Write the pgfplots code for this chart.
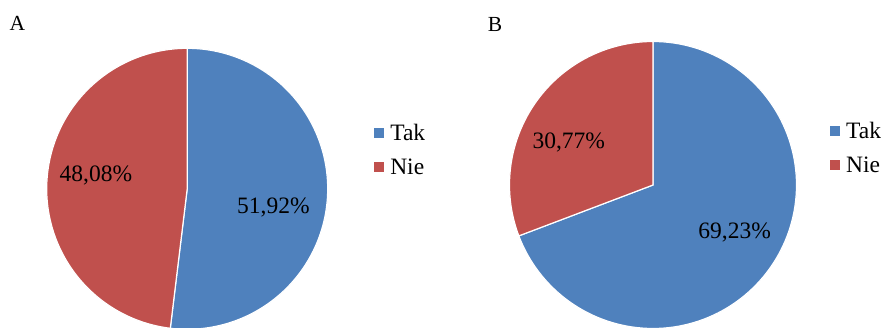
\documentclass[border=0pt]{standalone}
\usepackage{pgfplots}
\usepackage{pgfplotstable}
\pgfplotsset{compat=1.18}
\usepackage{fontspec}
\setmainfont{Liberation Serif}

\definecolor{tak}{HTML}{4F81BD}
\definecolor{nie}{HTML}{C0504D}

% Shares of answers (percent)
\pgfplotstableread{
answer share
Tak 51.92
Nie 48.08
}\surveyA
\pgfplotstableread{
answer share
Tak 69.23
Nie 30.77
}\surveyB

\pgfplotstablegetelem{0}{share}\of\surveyA \let\aTak\pgfplotsretval
\pgfplotstablegetelem{1}{share}\of\surveyA \let\aNie\pgfplotsretval
\pgfplotstablegetelem{0}{share}\of\surveyB \let\bTak\pgfplotsretval
\pgfplotstablegetelem{1}{share}\of\surveyB \let\bNie\pgfplotsretval

% wedge boundaries, clockwise from 12 o'clock
\pgfmathsetmacro\aCut{90-3.6*\aTak}
\pgfmathsetmacro\bCut{90-3.6*\bTak}

\newcommand\bigfont{\fontsize{23.5bp}{28bp}\selectfont}
\newcommand\pct[1]{\pgfmathprintnumber[fixed,fixed zerofill,precision=2,use comma,assume math mode=true]{#1}\%}

\pgfplotsset{
  pie/.style={
    hide axis, scale only axis, clip=false,
    xmin=-1, xmax=1, ymin=-1, ymax=1,
    anchor=origin,
    samples=120,
    legend cell align=left,
    legend image code/.code={\fill[##1, draw=none] (0bp,-5bp) rectangle (10bp,5bp);},
    legend style={draw=none, fill=none, anchor=west, inner sep=0pt,
      row sep=15bp, column sep=5bp, font=\bigfont,
      nodes={inner sep=1bp}},
  },
  wedge/.style={fill=#1, draw=white, line width=1.2bp},
}

\begin{document}
\begin{tikzpicture}
\useasboundingbox (0bp,0bp) rectangle (887bp,328bp);

\node[font=\fontsize{21.5bp}{25bp}\selectfont] at (17.5bp,304.5bp) {A};
\node[font=\fontsize{21.5bp}{25bp}\selectfont] at (495bp,303.5bp) {B};

\begin{axis}[pie, at={(187.2bp,139.2bp)}, width=281bp, height=281bp,
  legend style={at={(axis cs:1.33,0.276)}}]
  \addplot[wedge=tak, domain=\aCut:90] ({cos(x)},{sin(x)}) -- (axis cs:0,0) -- cycle;
  \addplot[wedge=nie, domain=90:\aCut+360] ({cos(x)},{sin(x)}) -- (axis cs:0,0) -- cycle;
  \legend{Tak, Nie}
  \node[anchor=base, font=\bigfont] at (axis cs:0.614,-0.1765) {\pct{\aTak}};
  \node[anchor=base, font=\bigfont] at (axis cs:-0.650,0.053) {\pct{\aNie}};
\end{axis}

\begin{axis}[pie, at={(653bp,143bp)}, width=287bp, height=287bp,
  legend style={at={(axis cs:1.233,0.258)}}]
  \addplot[wedge=tak, domain=\bCut:90] ({cos(x)},{sin(x)}) -- (axis cs:0,0) -- cycle;
  \addplot[wedge=nie, domain=90:\bCut+360] ({cos(x)},{sin(x)}) -- (axis cs:0,0) -- cycle;
  \legend{Tak, Nie}
  \node[anchor=base, font=\bigfont] at (axis cs:-0.587,0.251) {\pct{\bNie}};
  \node[anchor=base, font=\bigfont] at (axis cs:0.569,-0.371) {\pct{\bTak}};
\end{axis}
\end{tikzpicture}
\end{document}
